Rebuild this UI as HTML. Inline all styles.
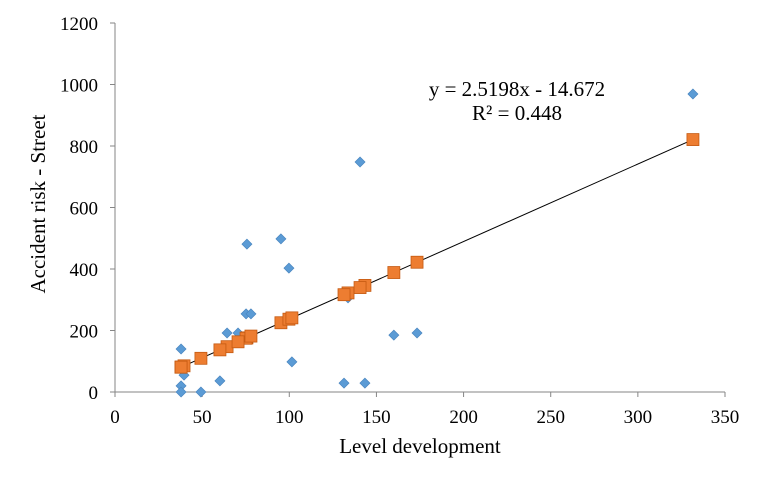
<!DOCTYPE html>
<html><head><meta charset="utf-8"><style>
body{margin:0;background:#fff;}
svg text{font-family:"Liberation Serif",serif;fill:#000;}
</style></head><body>
<svg id="c" width="765" height="485"></svg>
<script>
const xs=[75.7,95.2,99.8,133.7,75.2,78,64.3,70.6,37.9,160,173.3,39.6,101.5,37.9,37.9,49.3,60.2,131.4,143.4,140.6,331.6];
const ys=[481,498,403,306,254,254,192,192,140,185,192,55,98,20,0,0,36,29,29,748,969];
const slope=[2.5198];
const intercept=[-14.672];
const xTicks=[0,50,100,150,200,250,300,350];
const yTicks=[0,200,400,600,800,1000,1200];
const NS='http://www.w3.org/2000/svg';
const svg=document.getElementById('c');
const X=v=>115+v*(610/350), Y=v=>392-v*(369/1200);
function mk(t,a,p){const e=document.createElementNS(NS,t);for(const k in a)e.setAttribute(k,a[k]);(p||svg).appendChild(e);return e;}
let ax=mk('line',{x1:X(0),y1:Y(0),x2:X(350),y2:Y(0),stroke:'#868686'});


let ay=mk('line',{x1:X(0),y1:Y(0),x2:X(0),y2:Y(1200),stroke:'#868686'});


xTicks.forEach(v=>{mk('line',{x1:X(v),y1:Y(0),x2:X(v),y2:Y(0)+5,stroke:'#868686'});
 const t=mk('text',{x:X(v),y:Y(0)+31,'text-anchor':'middle','font-size':19});t.textContent=v;
 
 });
yTicks.forEach(v=>{mk('line',{x1:X(0)-5,y1:Y(v),x2:X(0),y2:Y(v),stroke:'#868686'});
 const t=mk('text',{x:X(0)-17,y:Y(v)+7,'text-anchor':'end','font-size':19});t.textContent=v;
 
 });
const xmin=Math.min(...xs),xmax=Math.max(...xs);
const f=x=>slope[0]*x+intercept[0];
let tl=mk('line',{x1:X(xmin),y1:Y(f(xmin)),x2:X(xmax),y2:Y(f(xmax)),stroke:'#000','stroke-width':1});


xs.forEach((x,i)=>{const cx=X(x),cy=Y(ys[i]);
 const d=mk('polygon',{points:`${cx},${cy-5} ${cx+5},${cy} ${cx},${cy+5} ${cx-5},${cy}`,fill:'#5b9bd5',stroke:'#4a86c0','stroke-width':0.7});
 
 });
xs.forEach(x=>{const cx=X(x),cy=Y(f(x));
 const s=mk('rect',{x:cx-6,y:cy-6,width:12,height:12,fill:'#ed7d31',stroke:'#c55a11','stroke-width':0.8});
 
 });
let e1=mk('text',{x:517,y:96,'text-anchor':'middle','font-size':21});e1.textContent='y = 2.5198x - 14.672';


let e2=mk('text',{x:517,y:120,'text-anchor':'middle','font-size':21});e2.textContent='R² = 0.448';


let xt=mk('text',{x:420,y:453,'text-anchor':'middle','font-size':21});xt.textContent='Level development';


let yt=mk('text',{x:0,y:0,'text-anchor':'middle','font-size':21,transform:'translate(45,204) rotate(-90)'});yt.textContent='Accident risk - Street';


</script>
</body></html>
